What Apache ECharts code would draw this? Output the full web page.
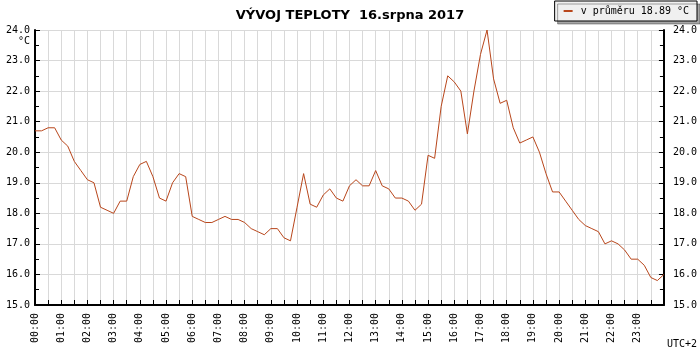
<!DOCTYPE html>
<html>
<head>
<meta charset="utf-8">
<script src="https://cdn.jsdelivr.net/npm/echarts@6/dist/echarts.min.js"></script>
<style>html,body{margin:0;padding:0;background:#fff}#c{width:700px;height:350px}</style>
</head>
<body>
<div id="c"></div>
<script>
const titleText = 'VÝVOJ TEPLOTY  16.srpna 2017';
const seriesName = 'v průměru 18.89 °C';
const unitLabel = '°C';
const zoneLabel = 'UTC+2';
const times = [
 '00:00','00:15','00:30','00:45','01:00','01:15','01:30','01:45',
 '02:00','02:15','02:30','02:45','03:00','03:15','03:30','03:45',
 '04:00','04:15','04:30','04:45','05:00','05:15','05:30','05:45',
 '06:00','06:15','06:30','06:45','07:00','07:15','07:30','07:45',
 '08:00','08:15','08:30','08:45','09:00','09:15','09:30','09:45',
 '10:00','10:15','10:30','10:45','11:00','11:15','11:30','11:45',
 '12:00','12:15','12:30','12:45','13:00','13:15','13:30','13:45',
 '14:00','14:15','14:30','14:45','15:00','15:15','15:30','15:45',
 '16:00','16:15','16:30','16:45','17:00','17:15','17:30','17:45',
 '18:00','18:15','18:30','18:45','19:00','19:15','19:30','19:45',
 '20:00','20:15','20:30','20:45','21:00','21:15','21:30','21:45',
 '22:00','22:15','22:30','22:45','23:00','23:15','23:30','23:45',
 '24:00'
];
const temps = [
 20.7,20.7,20.8,20.8,20.4,20.2,19.7,19.4,
 19.1,19.0,18.2,18.1,18.0,18.4,18.4,19.2,
 19.6,19.7,19.2,18.5,18.4,19.0,19.3,19.2,
 17.9,17.8,17.7,17.7,17.8,17.9,17.8,17.8,
 17.7,17.5,17.4,17.3,17.5,17.5,17.2,17.1,
 18.2,19.3,18.3,18.2,18.6,18.8,18.5,18.4,
 18.9,19.1,18.9,18.9,19.4,18.9,18.8,18.5,
 18.5,18.4,18.1,18.3,19.9,19.8,21.5,22.5,
 22.3,22.0,20.6,22.0,23.2,24.0,22.4,21.6,
 21.7,20.8,20.3,20.4,20.5,20.0,19.3,18.7,
 18.7,18.4,18.1,17.8,17.6,17.5,17.4,17.0,
 17.1,17.0,16.8,16.5,16.5,16.3,15.9,15.8,
 16.0
];
const yMin = 15, yMax = 24, yStep = 1;

const lineColor = '#b8461b';
const gridColor = '#d9d9d9';
const mono = 'DejaVu Sans Mono';

const chart = echarts.init(document.getElementById('c'), null, {renderer:'canvas'});
const tickEvery = (i) => i % 2 === 0;
const labelEvery = (i) => i % 4 === 0 && i < times.length - 1;

function yAxisCfg(pos, margin){
  return {
    type:'value', position:pos, min:yMin, max:yMax, interval:yStep,
    axisLine:{show:true, lineStyle:{color:'#000', width:2}},
    axisTick:{show:true, inside:true, length:5, lineStyle:{color:'#000', width:1}},
    minorTick:{show:true, splitNumber:2, length:4, lineStyle:{color:'#000', width:1}},
    splitLine:{show: pos === 'left', lineStyle:{color:gridColor, width:1}},
    axisLabel:{margin:margin, color:'#000', fontFamily:mono, fontSize:10,
      formatter:(v)=>v.toFixed(1)}
  };
}

chart.setOption({
  animation:false,
  backgroundColor:'#fff',
  title:{text:titleText, left:'center', top:4,
    textStyle:{fontFamily:'DejaVu Sans', fontWeight:'bold', fontSize:13, color:'#000'}},
  legend:{
    right:3, top:1, padding:[5,8,5,9],
    backgroundColor:'#f0f0f0', borderColor:'#000', borderWidth:1,
    shadowColor:'rgba(0,0,0,0.35)', shadowBlur:0, shadowOffsetX:3, shadowOffsetY:3,
    icon:'rect', itemWidth:9, itemHeight:2,
    textStyle:{fontFamily:mono, fontSize:10, color:'#000', padding:[0,0,0,3]},
    data:[seriesName]
  },
  grid:{left:35, right:35, top:30, bottom:45, containLabel:false},
  xAxis:{
    type:'category', data:times, boundaryGap:false,
    axisLine:{show:true, lineStyle:{color:'#000', width:2}},
    axisTick:{show:true, inside:true, length:5, interval:tickEvery, lineStyle:{color:'#000', width:1}},
    splitLine:{show:true, interval:tickEvery, lineStyle:{color:gridColor, width:1}},
    axisLabel:{interval:labelEvery, rotate:90, margin:8, color:'#000', fontFamily:mono, fontSize:10}
  },
  yAxis:[yAxisCfg('left',5), yAxisCfg('right',9)],
  graphic:[
    {type:'text', right:670, top:36, style:{text:unitLabel, font:'10px "DejaVu Sans Mono"', fill:'#000'}},
    {type:'text', right:3, top:339, style:{text:zoneLabel, font:'10px "DejaVu Sans Mono"', fill:'#000'}}
  ],
  series:[{
    name:seriesName, type:'line', data:temps, yAxisIndex:0,
    showSymbol:false, symbol:'none', smooth:false,
    lineStyle:{color:lineColor, width:1}, itemStyle:{color:lineColor}
  }]
});
</script>
</body>
</html>
